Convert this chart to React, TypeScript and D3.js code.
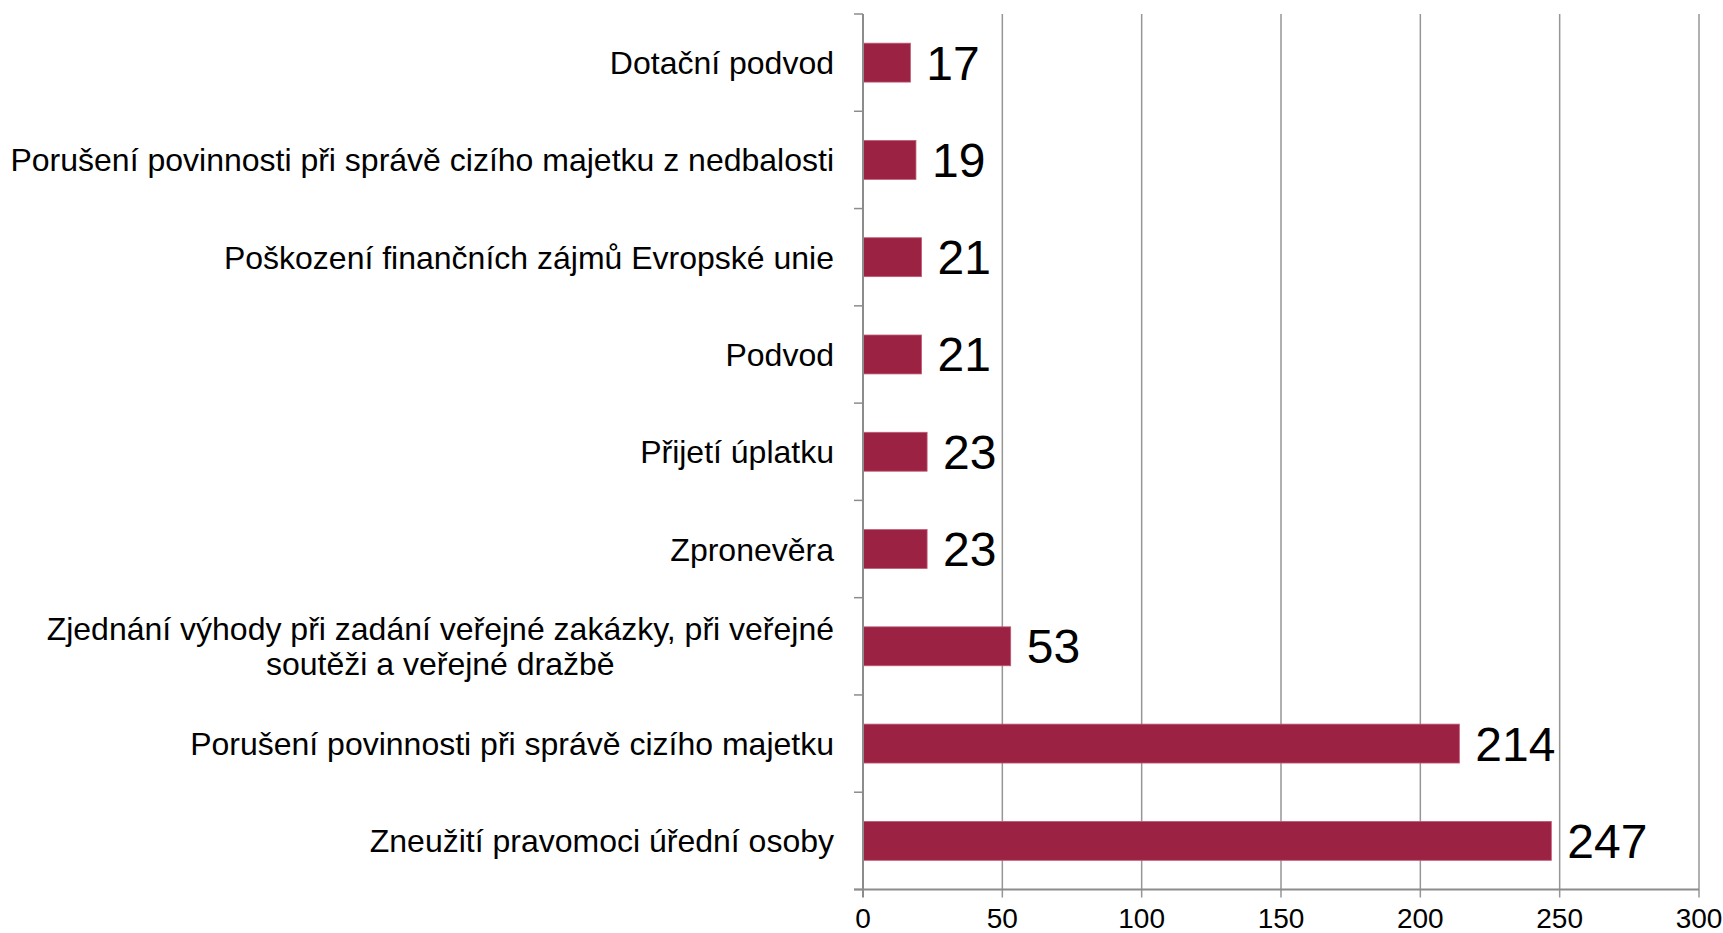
import React, { useEffect, useRef } from "react";
import * as d3 from "d3";

const categories: string[][] = [
  ["Dotační podvod"],
  ["Porušení povinnosti při správě cizího majetku z nedbalosti"],
  ["Poškození finančních zájmů Evropské unie"],
  ["Podvod"],
  ["Přijetí úplatku"],
  ["Zpronevěra"],
  ["Zjednání výhody při zadání veřejné zakázky, při veřejné", "soutěži a veřejné dražbě"],
  ["Porušení povinnosti při správě cizího majetku"],
  ["Zneužití pravomoci úřední osoby"],
];
const values: number[] = [17, 19, 21, 21, 23, 23, 53, 214, 247];
const xTicks: number[] = [0, 50, 100, 150, 200, 250, 300];

const W = 1723;
const H = 933;
const FONT = "'Liberation Sans', Arial, sans-serif";

export default function App() {
  const ref = useRef<SVGSVGElement | null>(null);

  useEffect(() => {
    document.body.style.margin = "0";
    const svg = d3.select(ref.current);
    svg.selectAll("*").remove();

    const left = 863;
    const right = 1699;
    const top = 14;
    const bottom = 889.5;

    const x = d3.scaleLinear().domain([0, 300]).range([left, right]);
    const idx = categories.map((_, i) => String(i));
    const y = d3.scaleBand<string>().domain(idx).range([top, bottom]).paddingInner(0.6).paddingOuter(0.3);
    const step = (bottom - top) / categories.length;

    const g = svg.append("g");

    g.selectAll("line.grid")
      .data(xTicks.filter((t) => t > 0))
      .join("line")
      .attr("x1", (d) => x(d))
      .attr("x2", (d) => x(d))
      .attr("y1", top)
      .attr("y2", bottom + 8)
      .attr("stroke", "#969696")
      .attr("stroke-width", 1.5);

    g.selectAll("rect.bar")
      .data(values)
      .join("rect")
      .attr("x", x(0))
      .attr("y", (_, i) => y(String(i))!)
      .attr("width", (d) => x(d) - x(0))
      .attr("height", y.bandwidth())
      .attr("fill", "#9B2242")
      .attr("stroke", "#bf5a76")
      .attr("stroke-width", 0.8);

    g.append("line")
      .attr("x1", left)
      .attr("x2", left)
      .attr("y1", top)
      .attr("y2", bottom + 8)
      .attr("stroke", "#8c8c8c")
      .attr("stroke-width", 2);

    d3.range(categories.length + 1).forEach((k) => {
      g.append("line")
        .attr("x1", left - 9)
        .attr("x2", left)
        .attr("y1", top + k * step)
        .attr("y2", top + k * step)
        .attr("stroke", "#8c8c8c")
        .attr("stroke-width", 1.5);
    });

    g.append("line")
      .attr("x1", left - 9)
      .attr("x2", right)
      .attr("y1", bottom)
      .attr("y2", bottom)
      .attr("stroke", "#8c8c8c")
      .attr("stroke-width", 2);

    g.selectAll("text.xt")
      .data(xTicks)
      .join("text")
      .attr("x", (d) => x(d))
      .attr("y", 928)
      .attr("text-anchor", "middle")
      .attr("font-family", FONT)
      .attr("font-size", 28)
      .attr("fill", "#000")
      .text((d) => String(d));

    const labelRight = 834;
    categories.forEach((lines, i) => {
      const cy = y(String(i))! + y.bandwidth() / 2;
      const lh = 35;
      const t = g
        .append("text")
        .attr("font-family", FONT)
        .attr("font-size", 32)
        .attr("fill", "#000");
      const spans = lines.map((ln, j) => {
        const off = (j - (lines.length - 1) / 2) * lh;
        return t.append("tspan").attr("y", cy + off + 11.5).text(ln);
      });
      const widths = spans.map((s) => (s.node() as SVGTSpanElement).getComputedTextLength());
      const maxW = Math.max(...widths);
      const center = labelRight - maxW / 2;
      spans.forEach((s) => s.attr("x", center).attr("text-anchor", "middle"));
    });

    g.selectAll("text.val")
      .data(values)
      .join("text")
      .attr("x", (d) => x(d) + 16)
      .attr("y", (_, i) => y(String(i))! + y.bandwidth() / 2 + 17)
      .attr("font-family", FONT)
      .attr("font-size", 48)
      .attr("fill", "#000")
      .text((d) => String(d));
  }, []);

  return (
    <svg
      ref={ref}
      width={W}
      height={H}
      style={{ position: "absolute", left: 0, top: 0, background: "#fff" }}
    />
  );
}
